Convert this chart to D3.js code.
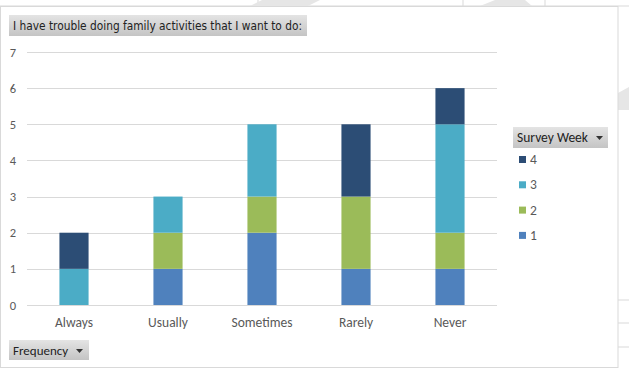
<!DOCTYPE html>
<html><head><meta charset="utf-8">
<script src="https://cdn.jsdelivr.net/npm/d3@7"></script>
<style>body{margin:0;background:#fff;}svg{display:block;font-family:Calibri,"Carlito","Liberation Sans",sans-serif;}</style>
</head><body>
<svg id="c" width="629" height="370"></svg>
<script>
const categories = ["Always","Usually","Sometimes","Rarely","Never"];
const seriesKeys = ["1","2","3","4"];
const week1 = [0,1,2,1,1];
const week2 = [0,1,1,2,1];
const week3 = [1,1,2,0,3];
const week4 = [1,0,0,2,1];
const yTicks = [0,1,2,3,4,5,6,7];
const colors = {"1":"#4F81BD","2":"#9BBB59","3":"#4BACC6","4":"#2C4D75"};
const titleText = "I have trouble doing family activities that I want to do:";
const legendTitle = "Survey Week";
const axisButton = "Frequency";

const rows = categories.map((c,i)=>({cat:c,"1":week1[i],"2":week2[i],"3":week3[i],"4":week4[i]}));
const svg = d3.select("#c");
const defs = svg.append("defs");
const g1 = defs.append("linearGradient").attr("id","btn").attr("x1",0).attr("y1",0).attr("x2",0).attr("y2",1);
g1.append("stop").attr("offset","0%").attr("stop-color","#e4e4e4");
g1.append("stop").attr("offset","100%").attr("stop-color","#c4c4c4");

// spreadsheet background bits
svg.append("line").attr("x1",0).attr("x2",629).attr("y1",6).attr("y2",6).attr("stroke","#d9d9d9");
[[258,0,258,6],[463,0,463,6],[545,0,545,6]].forEach(l=>svg.append("line").attr("x1",l[0]).attr("y1",l[1]).attr("x2",l[2]).attr("y2",l[3]).attr("stroke","#d9d9d9"));
[300,323,347].forEach(y=>svg.append("line").attr("x1",618).attr("x2",629).attr("y1",y).attr("y2",y).attr("stroke","#d9d9d9"));
svg.append("polygon").attr("points","250,6 262,0 320,0 308,6").attr("fill","#e6e6e6");
svg.append("polygon").attr("points","480,6 495,0 525,0 532,6").attr("fill","#e6e6e6");
svg.append("polygon").attr("points","618,93 629,87 629,110 618,110").attr("fill","#e6e6e6");
// chart border
svg.append("rect").attr("x",0.5).attr("y",6.5).attr("width",617.5).attr("height",361).attr("fill","#fff").attr("stroke","#d9d9d9");

const x = d3.scaleBand().domain(categories).range([27,497]).paddingInner(0.69).paddingOuter(0.345);
const y = d3.scaleLinear().domain([0,7]).range([305,52]);

// gridlines
svg.append("g").selectAll("line").data(yTicks).join("line")
 .attr("x1",27).attr("x2",497).attr("y1",d=>Math.round(y(d))+0.5).attr("y2",d=>Math.round(y(d))+0.5)
 .attr("stroke","#d9d9d9").attr("stroke-width",1);

const yAxis = svg.append("g").attr("transform","translate(27,0)")
 .call(d3.axisLeft(y).tickValues(yTicks).tickSize(0).tickPadding(11).tickFormat(d3.format("d")));
yAxis.select(".domain").remove();
yAxis.selectAll("text").attr("font-size",12.5).attr("fill","#595959").style("font-family","Calibri,Carlito,'Liberation Sans',sans-serif");

const stack = d3.stack().keys(seriesKeys)(rows);
svg.append("g").selectAll("g").data(stack).join("g").attr("fill",d=>colors[d.key])
 .selectAll("rect").data(d=>d).join("rect")
 .attr("x",d=>x(d.data.cat)).attr("width",x.bandwidth())
 .attr("y",d=>y(d[1])).attr("height",d=>y(d[0])-y(d[1]));

const xAxis = svg.append("g").attr("transform","translate(0,305)")
 .call(d3.axisBottom(x).tickSize(0).tickPadding(12));
xAxis.select(".domain").remove();
xAxis.selectAll("text").attr("font-size",13.5).attr("fill","#595959").style("font-family","Calibri,Carlito,'Liberation Sans',sans-serif");

// title button
svg.append("rect").attr("x",9).attr("y",15).attr("width",298).attr("height",21).attr("fill","url(#btn)");
svg.append("text").attr("x",13).attr("y",30).attr("font-size",11.5).attr("fill","#222")
 .style("font-family","Tahoma,'DejaVu Sans',sans-serif").attr("textLength",289).attr("lengthAdjust","spacingAndGlyphs").text(titleText);

// legend button
svg.append("rect").attr("x",513).attr("y",127).attr("width",95).attr("height",21).attr("fill","url(#btn)");
svg.append("text").attr("x",517).attr("y",142).attr("font-size",13.5).attr("fill","#222").text(legendTitle);
svg.append("path").attr("d","M596,136 h7 l-3.5,4 z").attr("fill","#333");
const leg = svg.append("g").selectAll("g").data(seriesKeys.slice().reverse()).join("g")
 .attr("transform",(d,i)=>`translate(519,${156+i*25.3})`);
leg.append("rect").attr("width",7).attr("height",7).attr("fill",d=>colors[d]);
leg.append("text").attr("x",11).attr("y",8).attr("font-size",13.5).attr("fill","#595959").text(d=>d);

// axis field button
svg.append("rect").attr("x",9).attr("y",340).attr("width",80).attr("height",20).attr("fill","url(#btn)");
svg.append("text").attr("x",13).attr("y",355).attr("font-size",13).attr("fill","#222").text(axisButton);
svg.append("path").attr("d","M76,349 h7 l-3.5,4 z").attr("fill","#333");
</script>
</body></html>
